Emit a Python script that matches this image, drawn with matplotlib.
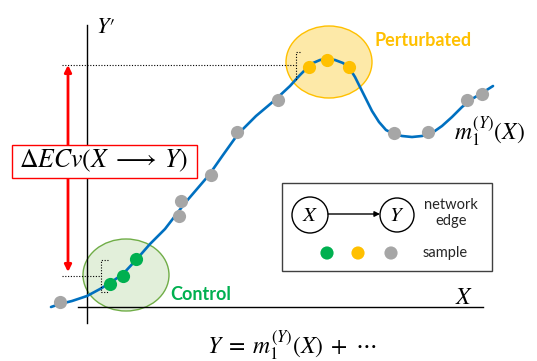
import matplotlib
matplotlib.use("Agg")
import matplotlib.pyplot as plt
from matplotlib.patches import Ellipse, Rectangle, Circle, FancyArrowPatch

plt.rcParams['mathtext.fontset'] = 'stix'

# regression curve m1(X), traced in canvas pixels
curve_x = [51, 60, 72, 87, 100, 110, 123, 136, 150, 165, 185, 209, 223, 238, 256, 275,
           290, 300, 307, 313, 320, 327, 335, 343, 350, 355, 360, 366, 372, 379, 386,
           394, 402, 412, 422, 432, 442, 452, 462, 472, 482, 493]
curve_y = [307, 304, 301, 296, 289, 283, 274, 260, 244, 229, 203, 175, 155, 134, 116, 100,
           86, 75, 68, 63, 60, 59, 60, 63, 69, 77, 87, 99, 111, 122, 130,
           134, 136, 137, 136, 133, 126, 117, 107, 99, 93, 86]

control_x = [110, 123, 136]
control_y = [284, 276, 259]
perturbed_x = [309, 327, 349]
perturbed_y = [67, 60, 67]
other_x = [60, 179, 181, 211, 237, 278, 394, 428, 467, 482]
other_y = [302, 216, 201, 175, 132, 100, 133, 132, 100, 94]

GREEN = '#00b050'
ORANGE = '#ffc000'
GRAY = '#a6a6a6'
BLUE = '#0070c0'

fig = plt.figure(figsize=(5.37, 3.61), dpi=100)
ax = fig.add_axes([0, 0, 1, 1])
ax.set_xlim(0, 537)
ax.set_ylim(361, 0)
ax.axis('off')

# axes
ax.plot([87, 87], [25, 323], color='black', lw=1)
ax.plot([78, 483], [307, 307], color='black', lw=1)
ax.text(96, 27, r"$Y\prime$", fontsize=16, va='center')
ax.text(455, 297, r"$X$", fontsize=17, va='center')

# groups
ax.add_patch(Ellipse((126, 275), 86, 72, facecolor='#e2efda', edgecolor='#70ad47', lw=1, zorder=1))
ax.add_patch(Ellipse((329, 62), 86, 72, facecolor='#fde9a8', edgecolor=ORANGE, lw=1, zorder=1))
ax.text(170, 294, 'Control', color=GREEN, fontsize=13, fontweight='bold', family='Lato', va='center')
ax.text(375, 41, 'Perturbated', color=ORANGE, fontsize=13, fontweight='bold', family='Lato', va='center')

ax.plot(curve_x, curve_y, color=BLUE, lw=1.9, zorder=2, solid_capstyle='round', solid_joinstyle='round')
ax.scatter(other_x, other_y, s=90, color=GRAY, zorder=3, linewidths=0)
ax.scatter(control_x, control_y, s=90, color=GREEN, zorder=3, linewidths=0)
ax.scatter(perturbed_x, perturbed_y, s=90, color=ORANGE, zorder=3, linewidths=0)
ax.text(454, 131, r"$m_1^{(Y)}(X)$", fontsize=17, va='center')

# dotted guides and brackets
dot = dict(color='black', lw=0.8, ls=(0, (1, 1.5)), zorder=2)
ax.plot([62, 296], [65, 65], **dot)
ax.plot([300, 296, 296], [52, 52, 80], **dot)
ax.plot([62, 101], [276, 276], **dot)
ax.plot([108, 101, 101, 108], [260, 260, 292, 292], **dot)

# effect arrow and label
ax.add_patch(FancyArrowPatch((68, 272), (68, 65), arrowstyle='<|-|>', mutation_scale=10,
                             color='red', lw=2, shrinkA=0, shrinkB=0, zorder=4))
ax.add_patch(Rectangle((12, 145), 185, 33, facecolor='white', edgecolor='red', lw=1, zorder=5))
ax.text(104, 161, r"$\Delta ECv(X \;\longrightarrow\; Y)$", fontsize=18.5, ha='center', va='center', zorder=6)

# legend
ax.add_patch(Rectangle((282, 183), 210, 88, facecolor='white', edgecolor='#404040', lw=1, zorder=5))
ax.add_patch(Circle((310, 215), 18, facecolor='white', edgecolor='black', lw=1, zorder=6))
ax.add_patch(Circle((397, 215), 17, facecolor='white', edgecolor='black', lw=1, zorder=6))
ax.text(310, 215, r"$X$", fontsize=15, ha='center', va='center', zorder=7)
ax.text(397, 215, r"$Y$", fontsize=15, ha='center', va='center', zorder=7)
ax.add_patch(FancyArrowPatch((328, 214), (380, 214), arrowstyle='-|>', mutation_scale=8,
                             color='black', lw=1, shrinkA=0, shrinkB=0, zorder=6))
ax.text(451, 213, 'network\nedge', fontsize=10.5, ha='center', va='center', family='Lato',
        color='#262626', linespacing=1.25, zorder=7)
ax.scatter([327, 358, 391], [253, 253, 253], s=90, color=[GREEN, ORANGE, GRAY], linewidths=0, zorder=7)
ax.text(445, 253, 'sample', fontsize=10.5, ha='center', va='center', family='Lato', color='#262626', zorder=7)

ax.text(292, 345, r"$Y \;=\; m_1^{(Y)}(X) \;+\; \cdots$", fontsize=17, ha='center', va='center')

fig.savefig('out.png', dpi=100)
